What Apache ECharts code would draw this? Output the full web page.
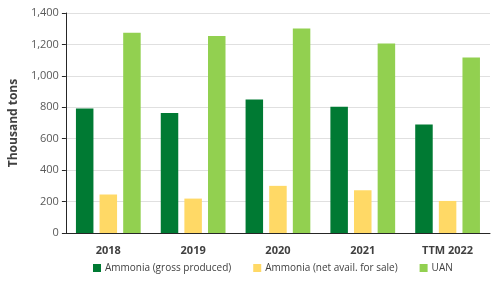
<!DOCTYPE html>
<html>
<head>
<meta charset="utf-8">
<script src="https://cdn.jsdelivr.net/npm/echarts@6/dist/echarts.min.js"></script>
<style>
  html, body { margin: 0; padding: 0; background: #fff; }
  #chart { width: 493px; height: 291px; }
</style>
</head>
<body>
<div id="chart"></div>
<script>
// 数据
const categories = ['2018', '2019', '2020', '2021', 'TTM 2022'];
const grossProduced = [792, 764, 850, 803, 690];
const netForSale = [245, 219, 300, 272, 204];
const uan = [1274, 1253, 1302, 1206, 1117];
const seriesNames = ['Ammonia (gross produced)', 'Ammonia (net avail. for sale)', 'UAN'];

const font = "'Open Sans', 'Liberation Sans', sans-serif";
const chart = echarts.init(document.getElementById('chart'));

const optionData = {
    color: ['#007A33', '#FFD966', '#92D050'],
    animation: false,
    textStyle: { fontFamily: font },
    legend: {
        data: seriesNames,
        bottom: 13,
        left: 88,
        itemWidth: 8,
        itemHeight: 8,
        itemGap: 22,
        icon: 'rect',
        textStyle: { fontSize: 10, color: '#404040', fontFamily: font, padding: [0, 0, 0, -1] }
    },
    grid: {
        left: 65,
        right: 3,
        top: 13,
        bottom: 58
    },
    xAxis: {
        type: 'category',
        data: categories,
        axisLine: { lineStyle: { color: '#262626', width: 1 } },
        axisTick: { show: false },
        axisLabel: {
            margin: 12,
            fontSize: 11,
            fontWeight: 'bold',
            color: '#404040'
        }
    },
    yAxis: {
        type: 'value',
        min: 0,
        max: 1400,
        interval: 200,
        name: 'Thousand tons',
        nameLocation: 'middle',
        nameGap: 43,
        nameTextStyle: { fontSize: 12, fontWeight: 'bold', color: '#404040' },
        axisLine: { show: true, lineStyle: { color: '#262626' } },
        axisTick: { show: true, length: 4, lineStyle: { color: '#262626' } },
        axisLabel: {
            margin: 7,
            fontSize: 11,
            color: '#595959',
            formatter: v => v.toLocaleString('en-US')
        },
        splitLine: { lineStyle: { color: '#E0E0E0', width: 1 } }
    },
    series: [
        { name: seriesNames[0], type: 'bar', data: grossProduced, barWidth: 17.5, barGap: '35%' },
        { name: seriesNames[1], type: 'bar', data: netForSale, barWidth: 17.5, barGap: '35%' },
        { name: seriesNames[2], type: 'bar', data: uan, barWidth: 17.5, barGap: '35%' }
    ]
};

chart.setOption(optionData);
</script>
</body>
</html>
